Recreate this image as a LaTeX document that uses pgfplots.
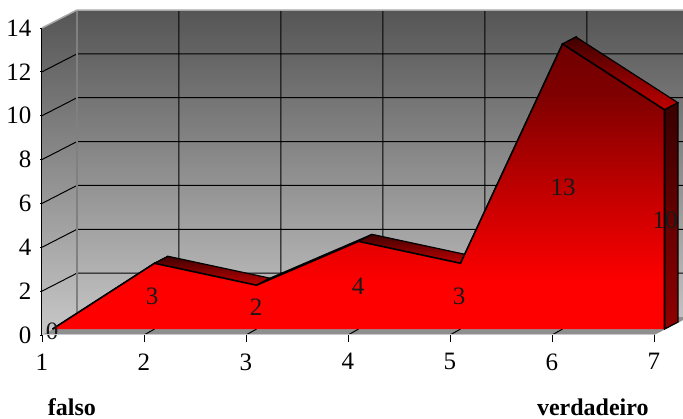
\documentclass[border=0pt]{standalone}
\usepackage{fontspec}
\setmainfont{Liberation Serif}
\usepackage{pgfplots}
\usepackage{pgfplotstable}
\pgfplotsset{compat=1.18}
\definecolor{wallTop}{HTML}{555555}
\definecolor{wallBot}{HTML}{C8C8C8}
\definecolor{floorc}{HTML}{8F8F8F}
\definecolor{edgec}{HTML}{A8A8A8}
\definecolor{backline}{HTML}{808080}
\definecolor{ribTop}{HTML}{400000}
\definecolor{ribBot}{HTML}{C00000}
\definecolor{sideTop}{HTML}{380000}
\definecolor{sideBot}{HTML}{900000}
\pgfdeclareverticalshading{redarea}{100bp}{rgb(0bp)=(1,0,0); rgb(33bp)=(1,0,0); rgb(66bp)=(0.5,0,0); rgb(75bp)=(0.44,0,0); rgb(100bp)=(0.44,0,0)}
\pgfplotstableread{
x y
1 0
2 3
3 2
4 4
5 3
6 13
7 10
7 0
}\seriesclosed
\newcommand{\ribbon}[8]{\addplot[draw=black, line width=1.2pt, top color=ribTop, bottom color=ribBot] coordinates {(#1,#2) (#3,#4) (#5,#6) (#7,#8)} --cycle;}
\begin{document}
\begin{tikzpicture}
\path[use as bounding box, clip] (-42pt,-84pt) rectangle (641pt,335pt);
\begin{axis}[
    scale only axis,
    width=612pt, height=307pt,
    xmin=1, xmax=7, ymin=0, ymax=14,
    clip=false,
    axis on top,
    axis x line*=bottom,
    axis y line*=left,
    x axis line style={-, draw=wallBot, line width=1pt},
    y axis line style={-, draw=black, line width=1pt},
    xtick={1,2,3,4,5,6,7},
    ytick={0,2,4,6,8,10,12,14},
    tick align=outside,
    tick style={black, line width=0.8pt},
    major tick length=2pt,
    tick label style={font=\fontsize{25}{25}\selectfont, /pgf/number format/assume math mode=true},
    xticklabel style={yshift=-13pt},
    yticklabel style={xshift=-5pt},
  ]
  % walls
  \addplot[draw=none, top color=wallTop, bottom color=wallBot] coordinates {(1,0) (1,14) (1.343,14.82) (7.343,14.82) (7.343,0.82) (7,0)} --cycle;
  % floor
  \addplot[draw=none, fill=floorc] coordinates {(1,0) (7,0) (7.343,0.82) (1.343,0.82)} --cycle;
  % grid on walls
  \addplot[black, line width=1pt, unbounded coords=jump] coordinates {
    (1,2) (1.343,2.82) (7.343,2.82) (nan,nan)
    (1,4) (1.343,4.82) (7.343,4.82) (nan,nan)
    (1,6) (1.343,6.82) (7.343,6.82) (nan,nan)
    (1,8) (1.343,8.82) (7.343,8.82) (nan,nan)
    (1,10) (1.343,10.82) (7.343,10.82) (nan,nan)
    (1,12) (1.343,12.82) (7.343,12.82) (nan,nan)
    (2.343,0.82) (2.343,14.82) (nan,nan)
    (3.343,0.82) (3.343,14.82) (nan,nan)
    (4.343,0.82) (4.343,14.82) (nan,nan)
    (5.343,0.82) (5.343,14.82) (nan,nan)
    (6.343,0.82) (6.343,14.82) (nan,nan)
    (2,0) (2.103,0.27) (nan,nan)
    (3,0) (3.103,0.27) (nan,nan)
    (4,0) (4.103,0.27) (nan,nan)
    (5,0) (5.103,0.27) (nan,nan)
    (6,0) (6.103,0.27)
  };
  % x tick marks, longer than the y ones
  \addplot[black, line width=0.8pt, unbounded coords=jump] coordinates {
    (1,0) (1,-0.32) (nan,nan) (2,0) (2,-0.32) (nan,nan) (3,0) (3,-0.32) (nan,nan)
    (4,0) (4,-0.32) (nan,nan) (5,0) (5,-0.32) (nan,nan) (6,0) (6,-0.32) (nan,nan)
    (7,0) (7,-0.32)
  };
  \addplot[backline, line width=2pt] coordinates {(1.343,0.82) (1.343,14.82)};
  \addplot[edgec, line width=1.5pt] coordinates {(1,14) (1.343,14.82) (7.343,14.82)};
  % ribbon of the area, one face per segment
  \ribbon{1.103}{0.27}{2.103}{3.27}{2.235}{3.59}{1.235}{0.59}
  \ribbon{2.103}{3.27}{3.103}{2.27}{3.235}{2.59}{2.235}{3.59}
  \ribbon{3.103}{2.27}{4.103}{4.27}{4.235}{4.59}{3.235}{2.59}
  \ribbon{4.103}{4.27}{5.103}{3.27}{5.235}{3.59}{4.235}{4.59}
  \ribbon{5.103}{3.27}{6.103}{13.27}{6.235}{13.59}{5.235}{3.59}
  \ribbon{6.103}{13.27}{7.103}{10.27}{7.235}{10.59}{6.235}{13.59}
  % right end face
  \addplot[draw=black, line width=1.2pt, top color=sideTop, bottom color=sideBot] coordinates {(7.103,0.27) (7.103,10.27) (7.235,10.59) (7.235,0.59)} --cycle;
  % front face
  \addplot[draw=none, shade, shading=redarea] table[x expr=\thisrow{x}+0.103, y expr=\thisrow{y}+0.27] {\seriesclosed} --cycle;
  \addplot[black, line width=1.6pt] table[x expr=\thisrow{x}+0.103, y expr=\thisrow{y}+0.27] {\seriesclosed};
  % data labels
  \begin{scope}[every node/.style={font=\fontsize{25}{25}\selectfont, inner sep=0pt, text=black!90}]
    \node at (axis cs:1.10,0.18) {0};
    \node at (axis cs:2.08,1.74) {3};
    \node at (axis cs:3.10,1.28) {2};
    \node at (axis cs:4.10,2.24) {4};
    \node at (axis cs:5.09,1.74) {3};
    \node at (axis cs:6.11,6.75) {13};
    \node at (axis cs:7.11,5.24) {10};
  \end{scope}
  \node[font=\bfseries\fontsize{24}{24}\selectfont, inner sep=0pt] at (axis cs:1.294,-3.28) {falso};
  \node[font=\bfseries\fontsize{24}{24}\selectfont, inner sep=0pt] at (axis cs:6.40,-3.28) {verdadeiro};
\end{axis}
\end{tikzpicture}
\end{document}
